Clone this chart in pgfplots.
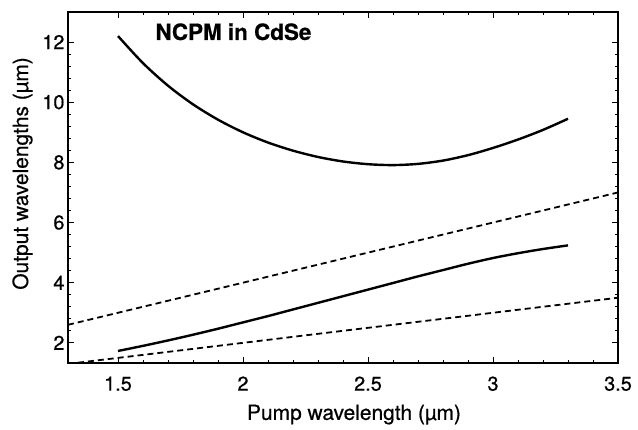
\documentclass[border=0pt]{standalone}
\usepackage{fontspec}
\setmainfont{TeX Gyre Heros}[FakeBold=0.6]
\usepackage{pgfplots}
\pgfplotsset{compat=1.18}
\begin{document}
\begin{tikzpicture}
\begin{axis}[
  scale only axis, width=550bp, height=351bp,
  xmin=1.3, xmax=3.5, ymin=1.33, ymax=13.0,
  xtick={1.5,2,2.5,3,3.5}, xticklabels={1.5,2,2.5,3,3.5},
  ytick={2,4,6,8,10,12}, yticklabels={2,4,6,8,10,12},
  minor x tick num=4, minor y tick num=4,
  tick align=inside,
  major tick length=6bp, minor tick length=3.5bp,
  axis line style={line width=1.6bp},
  every tick/.style={black, line width=0.8bp},
  tick label style={font=\fontsize{20}{24}\selectfont},
  /pgf/number format/assume math mode=true,
  xticklabel style={yshift=-10bp},
  xlabel={Pump wavelength (µm)},
  ylabel={Output wavelengths (µm)},
  label style={font=\fontsize{21}{25}\selectfont},
  xlabel style={at={(axis description cs:0.52,-0.162)}, anchor=base},
  ylabel style={at={(axis description cs:-0.0727,0.54)}, anchor=base},
]
% dashed reference lines
\addplot[black, line width=1.8bp, dash pattern=on 6bp off 4bp] coordinates {(1.3,2.6) (3.5,7.0)};
\addplot[black, line width=1.8bp, dash pattern=on 6bp off 4bp] coordinates {(1.3,1.3) (3.5,3.5)};
% idler
\addplot[black, line width=2.4bp, smooth] coordinates {
(1.50,12.20) (1.60,11.30) (1.70,10.55) (1.80,9.93) (1.90,9.42) (2.00,9.00)
(2.10,8.66) (2.20,8.39) (2.30,8.18) (2.40,8.03) (2.50,7.94) (2.60,7.91)
(2.70,7.95) (2.80,8.06) (2.90,8.24) (3.00,8.48) (3.10,8.76) (3.20,9.08) (3.30,9.45)};
% signal
\addplot[black, line width=2.4bp, smooth] coordinates {
(1.50,1.73) (1.60,1.90) (1.70,2.08) (1.80,2.27) (1.90,2.47) (2.00,2.68)
(2.10,2.89) (2.20,3.11) (2.30,3.33) (2.40,3.55) (2.50,3.77) (2.60,3.99)
(2.70,4.21) (2.80,4.42) (2.90,4.63) (3.00,4.82) (3.10,4.98) (3.20,5.12) (3.30,5.24)};
\node[anchor=base west, font=\bfseries\fontsize{22.5}{26}\selectfont] at (axis cs:1.636,12.07) {NCPM in CdSe};
\end{axis}
\pgfresetboundingbox
\path[use as bounding box] ([xshift=-68bp,yshift=-67bp]current axis.south west) rectangle ([xshift=20bp,yshift=12bp]current axis.north east);
\end{tikzpicture}
\end{document}
